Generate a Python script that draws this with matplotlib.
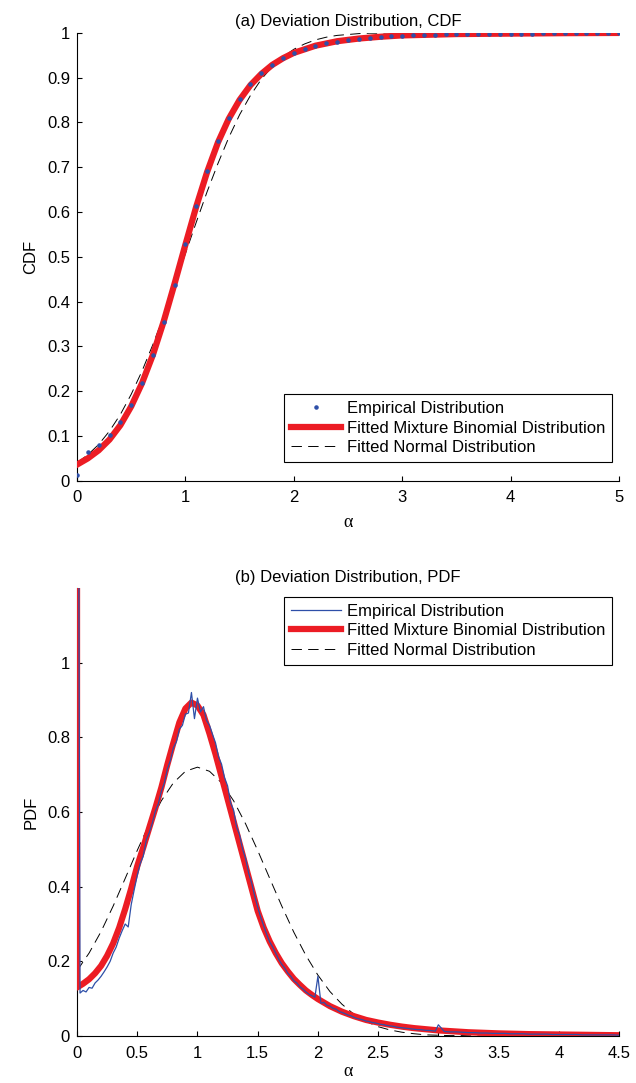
import numpy as np
import matplotlib
matplotlib.use("Agg")
import matplotlib.pyplot as plt
from matplotlib.ticker import FormatStrFormatter

plt.rcParams['font.family'] = ['Liberation Sans', 'DejaVu Sans']
plt.rcParams['font.size'] = 12
plt.rcParams['lines.scale_dashes'] = False

# ---- (a) CDF data ----
cdf_x = np.round(np.arange(0, 5.01, 0.1), 2)
cdf_emp = [0.013, 0.065, 0.080, 0.101, 0.131, 0.170, 0.219, 0.281, 0.355, 0.438,
           0.528, 0.614, 0.691, 0.758, 0.810, 0.853, 0.885, 0.910, 0.929, 0.944,
           0.955, 0.964, 0.971, 0.976, 0.980, 0.984, 0.987, 0.989, 0.991, 0.992,
           0.993, 0.994, 0.995, 0.995, 0.996, 0.996, 0.997, 0.997, 0.997, 0.998,
           0.998, 0.998, 0.998, 0.999, 0.999, 0.999, 0.999, 0.999, 0.999, 0.999, 0.999]
cdf_norm = [0.040, 0.058, 0.081, 0.111, 0.148, 0.193, 0.245, 0.304, 0.368, 0.437,
            0.507, 0.577, 0.645, 0.708, 0.766, 0.817, 0.860, 0.896, 0.924, 0.946,
            0.963, 0.975, 0.984, 0.990, 0.994, 0.996, 0.998, 0.999, 0.999, 1.0,
            1.0, 1.0, 1.0, 1.0, 1.0, 1.0, 1.0, 1.0, 1.0, 1.0,
            1.0, 1.0, 1.0, 1.0, 1.0, 1.0, 1.0, 1.0, 1.0, 1.0, 1.0]
cdf_fit_x = [0.0, 0.1, 0.2, 0.3, 0.4, 0.5, 0.6, 0.7, 0.8, 0.9, 1.0, 1.1, 1.2, 1.3,
             1.4, 1.5, 1.6, 1.7, 1.8, 1.9, 2.0, 2.2, 2.4, 2.6, 2.8, 3.0, 3.5, 4.0, 4.5, 5.0]
cdf_fit = [0.036, 0.050, 0.068, 0.092, 0.124, 0.166, 0.218, 0.281, 0.356, 0.440,
           0.527, 0.612, 0.689, 0.755, 0.808, 0.850, 0.883, 0.908, 0.928, 0.943,
           0.955, 0.971, 0.981, 0.987, 0.991, 0.994, 0.997, 0.998, 0.999, 0.9995]

# ---- (b) PDF data ----
# empirical: 0 to 3 every 0.025, then 3.05 to 4.5 every 0.05
pdf_emp_lo = [3.0, 0.115, 0.122, 0.118, 0.130, 0.128, 0.142, 0.150, 0.160, 0.172,
              0.185, 0.200, 0.222, 0.238, 0.262, 0.282, 0.300, 0.292, 0.352, 0.392,
              0.430, 0.462, 0.482, 0.525, 0.545, 0.570, 0.602, 0.622, 0.655, 0.678,
              0.715, 0.738, 0.772, 0.788, 0.822, 0.832, 0.862, 0.865, 0.920, 0.850,
              0.905, 0.868, 0.882, 0.845, 0.832, 0.808, 0.785, 0.748, 0.728, 0.692,
              0.670, 0.625, 0.605, 0.560, 0.538, 0.500, 0.475, 0.436, 0.410, 0.375,
              0.345, 0.318, 0.295, 0.272, 0.252, 0.238, 0.222, 0.205, 0.192, 0.182,
              0.168, 0.160, 0.148, 0.142, 0.132, 0.126, 0.118, 0.112, 0.108, 0.104,
              0.160, 0.088, 0.090, 0.082, 0.080, 0.074, 0.072, 0.066, 0.063, 0.060,
              0.056, 0.054, 0.050, 0.047, 0.045, 0.043, 0.040, 0.039, 0.036, 0.035,
              0.033, 0.031, 0.030, 0.028, 0.027, 0.026, 0.024, 0.023, 0.022, 0.021,
              0.020, 0.019, 0.018, 0.017, 0.017, 0.016, 0.015, 0.015, 0.014, 0.013,
              0.030]
pdf_emp_hi = [0.012, 0.011, 0.011, 0.010, 0.009, 0.009, 0.008, 0.008, 0.007, 0.007,
              0.007, 0.006, 0.006, 0.006, 0.005, 0.005, 0.005, 0.005, 0.004, 0.004,
              0.004, 0.004, 0.004, 0.003, 0.003, 0.003, 0.003, 0.003, 0.003, 0.002]
pdf_emp_x = np.concatenate([np.linspace(0, 3, len(pdf_emp_lo)),
                            np.linspace(3.05, 4.5, len(pdf_emp_hi))])
pdf_emp = pdf_emp_lo + pdf_emp_hi

pdf_fit_x = [0.0, 0.0, 0.05, 0.10, 0.15, 0.20, 0.25, 0.30, 0.35, 0.40, 0.45, 0.50,
             0.55, 0.60, 0.65, 0.70, 0.75, 0.80, 0.85, 0.90, 0.95, 1.00, 1.05,
             1.10, 1.15, 1.20, 1.25, 1.30, 1.35, 1.40, 1.45, 1.50, 1.55, 1.60,
             1.65, 1.70, 1.75, 1.80, 1.85, 1.90, 1.95, 2.00, 2.10, 2.20, 2.30,
             2.40, 2.50, 2.60, 2.70, 2.80, 2.90, 3.00, 3.25, 3.50, 3.75, 4.00,
             4.25, 4.50]
pdf_fit = [3.0, 0.130, 0.140, 0.152, 0.168, 0.188, 0.215, 0.248, 0.290, 0.340, 0.395,
           0.455, 0.505, 0.558, 0.610, 0.665, 0.727, 0.785, 0.840, 0.877, 0.893,
           0.885, 0.860, 0.810, 0.755, 0.695, 0.635, 0.575, 0.515, 0.455, 0.395,
           0.335, 0.290, 0.253, 0.222, 0.195, 0.173, 0.153, 0.137, 0.122, 0.110,
           0.099, 0.080, 0.065, 0.053, 0.043, 0.036, 0.030, 0.025, 0.021, 0.018,
           0.015, 0.010, 0.007, 0.005, 0.004, 0.003, 0.002]

pdf_norm_x = np.round(np.arange(0, 4.51, 0.1), 2)
pdf_norm = [0.175, 0.222, 0.280, 0.348, 0.422, 0.497, 0.568, 0.630, 0.678, 0.709,
            0.720, 0.709, 0.678, 0.630, 0.568, 0.497, 0.422, 0.348, 0.278, 0.216,
            0.163, 0.119, 0.085, 0.058, 0.039, 0.025, 0.016, 0.010, 0.006, 0.003,
            0.002, 0.001, 0.001, 0.0, 0.0, 0.0, 0.0, 0.0, 0.0, 0.0,
            0.0, 0.0, 0.0, 0.0, 0.0, 0.0]

red = '#ec1c24'
blue = '#2e4fa8'
dash = (0, (7.5, 4.5))
serif = ['Liberation Serif', 'DejaVu Serif']


def style_axes(ax):
    ax.spines['top'].set_visible(False)
    ax.spines['right'].set_visible(False)
    for s in ('left', 'bottom'):
        ax.spines[s].set_linewidth(0.8)
    ax.tick_params(direction='in', length=3.5, width=0.8, labelsize=12, pad=5)
    ax.tick_params(axis='x', pad=7)
    ax.xaxis.set_major_formatter(FormatStrFormatter('%g'))
    ax.yaxis.set_major_formatter(FormatStrFormatter('%g'))


def add_legend(ax, loc, anchor):
    leg = ax.legend(loc=loc, bbox_to_anchor=anchor, fontsize=12,
                    fancybox=False, edgecolor='black', framealpha=1, borderaxespad=0,
                    handlelength=3.0, handletextpad=0.35, labelspacing=0.28,
                    borderpad=0.4)
    leg.get_frame().set_linewidth(0.8)
    return leg


fig = plt.figure(figsize=(6.36, 10.83), dpi=100)

# --- Panel (a): CDF ---
ax1 = fig.add_axes([0.1211, 0.5561, 0.8522, 0.4137])
ax1.plot(cdf_x, cdf_emp, '.', color=blue, markersize=4.5, label='Empirical Distribution', zorder=4)
ax1.plot(cdf_fit_x, cdf_fit, color=red, lw=4.5, label='Fitted Mixture Binomial Distribution', zorder=3)
ax1.plot(cdf_x, cdf_norm, color='black', lw=0.7, linestyle=dash, label='Fitted Normal Distribution', zorder=2)
ax1.set_xlim(0, 5)
ax1.set_ylim(0, 1)
ax1.set_xticks(np.arange(0, 5.01, 1))
ax1.set_yticks(np.round(np.arange(0, 1.01, 0.1), 1))
style_axes(ax1)
ax1.set_title('(a) Deviation Distribution, CDF', fontsize=12, pad=4.5)
ax1.set_ylabel('CDF', fontsize=12, labelpad=6)
ax1.set_xlabel('α', fontsize=13, family=serif, labelpad=6)
add_legend(ax1, 'lower right', (0.987, 0.042))

# --- Panel (b): PDF ---
ax2 = fig.add_axes([0.1211, 0.0434, 0.8522, 0.4137])
ax2.plot(pdf_emp_x, pdf_emp, color=blue, lw=0.9, label='Empirical Distribution', zorder=4)
ax2.plot(pdf_fit_x, pdf_fit, color=red, lw=4.5, label='Fitted Mixture Binomial Distribution', zorder=3)
ax2.plot(pdf_norm_x, pdf_norm, color='black', lw=0.7, linestyle=dash, label='Fitted Normal Distribution', zorder=2)
ax2.set_xlim(0, 4.5)
ax2.set_ylim(0, 1.2)
ax2.set_xticks(np.round(np.arange(0, 4.51, 0.5), 1))
ax2.set_yticks(np.round(np.arange(0, 1.01, 0.2), 1))
style_axes(ax2)
ax2.set_title('(b) Deviation Distribution, PDF', fontsize=12, pad=4.5)
ax2.set_ylabel('PDF', fontsize=12, labelpad=6)
ax2.set_xlabel('α', fontsize=13, family=serif, labelpad=2)
add_legend(ax2, 'upper right', (0.987, 0.980))

fig.savefig('out.png', dpi=100)
